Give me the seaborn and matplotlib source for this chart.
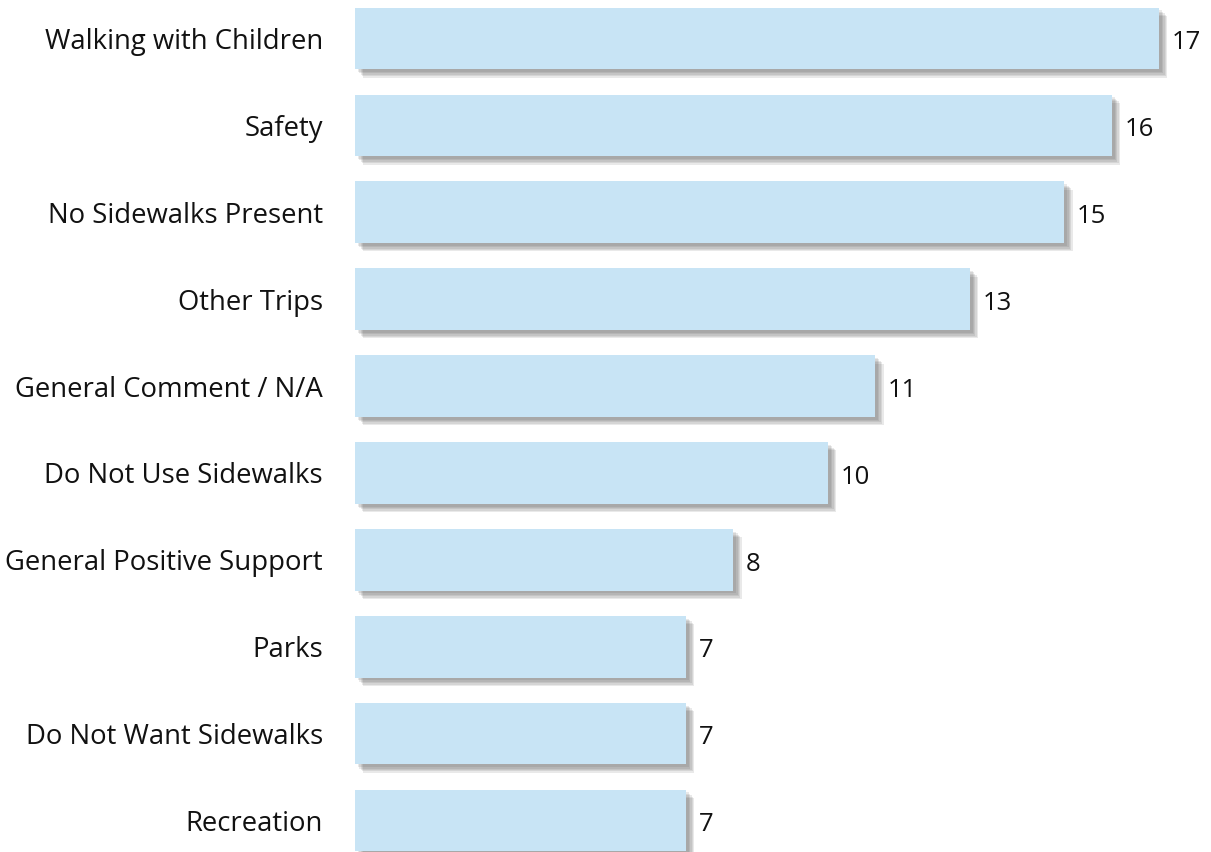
import matplotlib
matplotlib.use("Agg")
import matplotlib.pyplot as plt
import matplotlib.patheffects as pe
import seaborn as sns
import pandas as pd

# dados
categorias = [
    "Walking with Children", "Safety", "No Sidewalks Present", "Other Trips",
    "General Comment / N/A", "Do Not Use Sidewalks", "General Positive Support",
    "Parks", "Do Not Want Sidewalks", "Recreation",
]
contagens = [17, 16, 15, 13, 11, 10, 8, 7, 7, 7]

df = pd.DataFrame({"categoria": categorias, "n": contagens})

sns.set_theme(style="white")
plt.rcParams['font.family'] = ['Open Sans', 'DejaVu Sans']

fig = plt.figure(figsize=(12.11, 8.52), dpi=100)
# eixo posicionado em pixels: início das barras em x=355
ax = fig.add_axes([355 / 1211, -12 / 852, 856 / 1211, 869 / 852])

sns.barplot(data=df, x="n", y="categoria", orient="h", color="#C8E4F5",
            saturation=1, width=0.71, ax=ax)

# sombra suave (várias camadas)
sombra = [pe.SimplePatchShadow(offset=(d, -d), shadow_rgbFace="#555555", alpha=0.13)
          for d in (6, 5, 4, 3, 2)]
sombra.append(pe.Normal())
for p in ax.patches:
    p.set_path_effects(sombra)
    p.set_edgecolor("none")

for p in ax.patches:
    w = p.get_width()
    yc = p.get_y() + p.get_height() / 2
    ax.annotate(f"{w:.0f}", (w, yc), xytext=(9, -3), textcoords="offset points",
                ha="left", va="center", fontsize=18.5, color="#111111")

ax.set_xlim(0, 856 / 47.3)
ax.set_ylim(9.5, -0.5)
ax.set_xlabel("")
ax.set_ylabel("")
ax.set_xticks([])
ax.tick_params(axis="y", length=0, pad=23, labelsize=19.8, labelcolor="#111111")
sns.despine(ax=ax, left=True, bottom=True)

fig.savefig("out.png", dpi=100)
